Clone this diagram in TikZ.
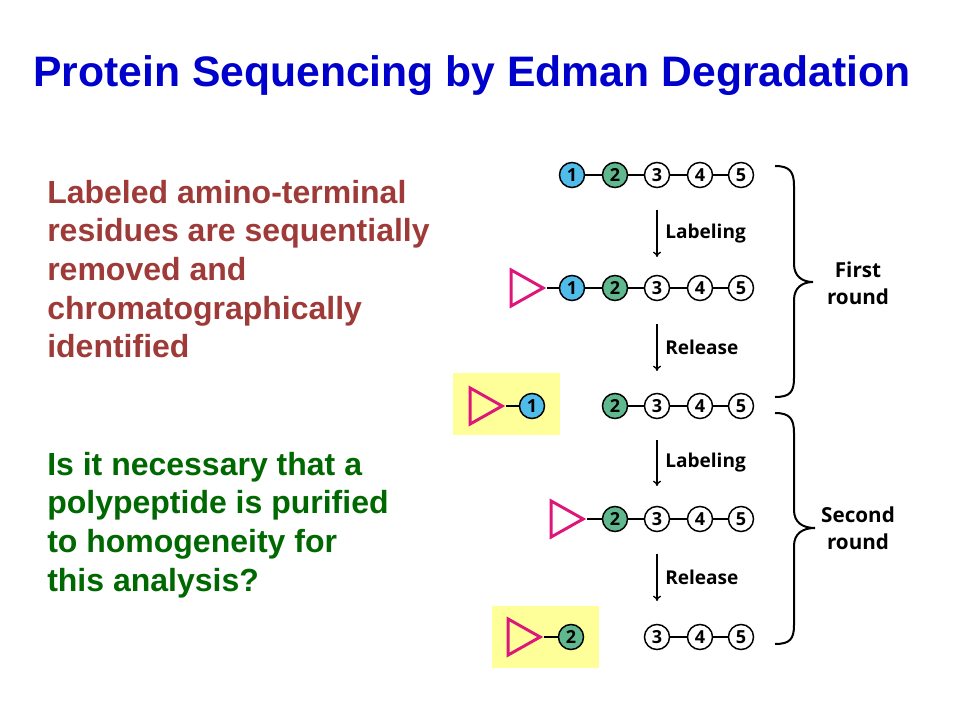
\documentclass[tikz,border=0pt]{standalone}
\usepackage{xcolor}
\usepackage{fontspec}
\setmainfont{Liberation Sans}
\newfontfamily\figfont{Open Sans}
\usepackage{tikz}
\usetikzlibrary{arrows}
\usetikzlibrary{arrows.meta}
\usetikzlibrary{shapes.geometric}
\usetikzlibrary{positioning}
\definecolor{titleblue}{RGB}{0,0,204}
\definecolor{notebrown}{RGB}{158,58,56}
\definecolor{askgreen}{RGB}{0,104,0}
\definecolor{resblue}{RGB}{80,188,234}
\definecolor{resgreen}{RGB}{96,184,142}
\definecolor{tagpink}{RGB}{222,22,122}
\definecolor{hilite}{RGB}{255,255,153}
\tikzset{>=latex}
\tikzstyle{res} = [circle, draw, line width = 1.1pt, minimum size = 18.8pt, inner sep = 0, font = \figfont\bfseries\fontsize{13.5}{13.5}\selectfont]
\tikzstyle{nterm} = [res, fill = resblue]
\tikzstyle{second} = [res, fill = resgreen]
\tikzstyle{tag} = [isosceles triangle, isosceles triangle stretches, draw = tagpink, line width = 2.2pt, minimum width = 27pt, minimum height = 24pt, inner sep = 0, anchor = apex]
\tikzstyle{bond} = [-, line width = 0.8pt]
\tikzstyle{rxn} = [-{To[length = 4pt, width = 6pt]}, line width = 1pt]
\tikzstyle{stepnote} = [draw=none, inner sep = 0, font = \figfont\bfseries\fontsize{14.3}{16}\selectfont]
\tikzstyle{roundnote} = [draw=none, align=center, inner sep = 0, font = \figfont\bfseries\fontsize{15.5}{20}\selectfont]
\tikzstyle{brace} = [line width = 1.5pt]
\tikzstyle{hibox} = [fill = hilite, draw=none, inner sep = 0, minimum width = 80.25pt, minimum height = 46.5pt]
\tikzstyle{prose} = [draw=none, align=left, inner sep = 0, anchor = north west, font = \bfseries\fontsize{24}{28.9}\selectfont]

\begin{document}
\begin{tikzpicture}[x = 0.75pt, y = -0.75pt]
\useasboundingbox (0, 0) rectangle (960, 720);
\node [draw=none, inner sep = 0, anchor = base west, text = titleblue, font = \bfseries\fontsize{32}{36}\selectfont] (title) at (33, 87) {Protein Sequencing by Edman Degradation};
\node [prose, text = notebrown] (note) at (47, 180) {Labeled amino-terminal\\residues are sequentially\\removed and\\chromatographically\\identified};
\node [prose, text = askgreen] (ask) at (47, 452) {Is it necessary that a\\polypeptide is purified\\to homogeneity for\\this analysis?};
\node [hibox] (box1) at (506.5, 404) {};
\node [hibox] (box2) at (545, 637) {};
% peptide before labeling
\node [nterm] (a1) at (572, 175) {1};
\node [second] (a2) at (615, 175) {2};
\node [res] (a3) at (657, 175) {3};
\node [res] (a4) at (700, 175) {4};
\node [res] (a5) at (741, 175) {5};
% labeled peptide
\node [tag] (b0) at (547, 288) {};
\node [nterm] (b1) at (572, 288) {1};
\node [second] (b2) at (615, 288) {2};
\node [res] (b3) at (657, 288) {3};
\node [res] (b4) at (700, 288) {4};
\node [res] (b5) at (741, 288) {5};
% first release
\node [tag] (c0) at (506, 406) {};
\node [nterm] (c1) at (532, 406) {1};
\node [second] (c2) at (615, 406) {2};
\node [res] (c3) at (657, 406) {3};
\node [res] (c4) at (700, 406) {4};
\node [res] (c5) at (741, 406) {5};
% second labeling
\node [tag] (d0) at (587, 519) {};
\node [second] (d2) at (615, 519) {2};
\node [res] (d3) at (657, 519) {3};
\node [res] (d4) at (700, 519) {4};
\node [res] (d5) at (741, 519) {5};
% second release
\node [tag] (e0) at (544, 637) {};
\node [second] (e2) at (571, 637) {2};
\node [res] (e3) at (657, 637) {3};
\node [res] (e4) at (700, 637) {4};
\node [res] (e5) at (741, 637) {5};
\draw [bond] (a1) -- (a2) -- (a3) -- (a4) -- (a5);
\draw [bond] (b0.apex) -- (b1);
\draw [bond] (b1) -- (b2) -- (b3) -- (b4) -- (b5);
\draw [bond] (c0.apex) -- (c1);
\draw [bond] (c2) -- (c3) -- (c4) -- (c5);
\draw [bond] (d0.apex) -- (d2);
\draw [bond] (d2) -- (d3) -- (d4) -- (d5);
\draw [bond] (e0.apex) -- (e2);
\draw [bond] (e3) -- (e4) -- (e5);
% steps
\coordinate (s1) at (657, 210); \coordinate (f1) at (657, 257);
\coordinate (s2) at (657, 324); \coordinate (f2) at (657, 371);
\coordinate (s3) at (657, 440); \coordinate (f3) at (657, 486);
\coordinate (s4) at (657, 554); \coordinate (f4) at (657, 601);
\draw [rxn] (s1) to coordinate (m1) (f1);
\draw [rxn] (s2) to coordinate (m2) (f2);
\draw [rxn] (s3) to coordinate (m3) (f3);
\draw [rxn] (s4) to coordinate (m4) (f4);
\node [stepnote, right = 6pt of m1] (lab1) {Labeling};
\node [stepnote, right = 6pt of m2] (rel1) {Release};
\node [stepnote, right = 6pt of m3] (lab2) {Labeling};
\node [stepnote, right = 6pt of m4] (rel2) {Release};
% rounds
\draw [brace] (775, 166) .. controls (790, 166) and (794, 172) .. (794, 186) -- (794, 264) .. controls (794, 276) and (802, 282) .. (813, 282) .. controls (802, 282) and (794, 288) .. (794, 300) -- (794, 378) .. controls (794, 392) and (790, 397) .. (775, 397);
\draw [brace] (775, 413) .. controls (790, 413) and (794, 419) .. (794, 433) -- (794, 510) .. controls (794, 522) and (802, 528) .. (815, 528) .. controls (802, 528) and (794, 534) .. (794, 546) -- (794, 625) .. controls (794, 639) and (790, 644) .. (775, 644);
\node [roundnote] (first) at (858, 283) {First\\round};
\node [roundnote] (secnd) at (858, 528) {Second\\round};
\end{tikzpicture}
\end{document}
